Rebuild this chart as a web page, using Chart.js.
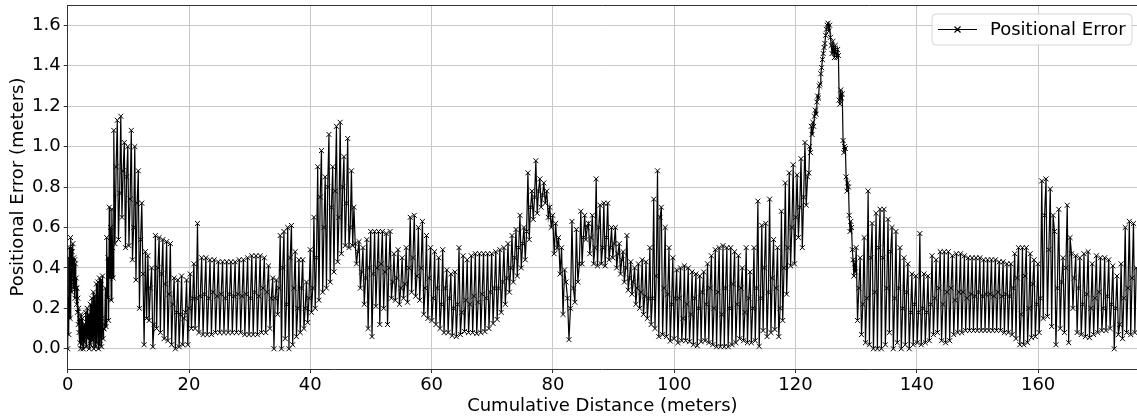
<!DOCTYPE html>
<html>
<head>
<meta charset="utf-8">
<script src="https://cdn.jsdelivr.net/npm/chart.js@4.4.1/dist/chart.umd.min.js"></script>
<style>
  html, body { margin: 0; padding: 0; background: #fff; }
</style>
</head>
<body>
<canvas id="errChart" width="1137" height="419"></canvas>
<script>
// distance breakpoints (m) between the sections
const breaks = [0, 2.2, 6.0, 7.6, 12.6, 19.4, 21.4, 33.8, 40.6, 47.4, 53.8, 62.5, 72.6,
  78.5, 84.6, 92.2, 100.4, 112.5, 122.2, 127.2, 130.0, 140.5, 147.2, 160.6, 166.2, 176.4];

// positional error (m), one list per section
const errA = [0.0, 0.25, 0.45, 0.07, 0.5, 0.3, 0.15, 0.55, 0.35, 0.5, 0.28, 0.48, 0.38, 0.52, 0.3, 0.45, 0.33,
  0.44, 0.25, 0.42, 0.3, 0.35, 0.22, 0.3, 0.18, 0.25, 0.12, 0.2, 0.08, 0.15, 0.03, 0.1, 0.0];
const errB = [0.17, 0.02, 0.1, 0.15, 0.0, 0.08, 0.12, 0.03, 0.12, 0.18, 0.01, 0.06, 0.2, 0.05, 0.1, 0.17, 0.0, 0.13,
  0.22, 0.02, 0.08, 0.25, 0.04, 0.12, 0.28, 0.0, 0.15, 0.26, 0.01, 0.1, 0.32, 0.03, 0.14, 0.33, 0.0, 0.12,
  0.35, 0.02, 0.1, 0.34, 0.01, 0.15, 0.36, 0.05, 0.1];
const errC = [0.1, 0.12, 0.3, 0.11, 0.55, 0.25, 0.45, 0.14, 0.7, 0.35, 0.6, 0.24, 0.69, 0.5, 0.35];
const errD = [1.08, 0.52, 0.9, 1.13, 0.54, 0.77, 1.15, 0.65, 0.88, 1.02, 0.5, 0.85, 1.0, 0.51, 0.74, 1.08, 0.44, 0.6,
  1.0, 0.34, 0.72, 0.88, 0.2, 0.54, 0.72, 0.37];
const errE = [0.02, 0.48, 0.15, 0.46, 0.14, 0.3, 0.4, 0.01, 0.12, 0.56, 0.1, 0.4, 0.55, 0.08, 0.37, 0.54, 0.05, 0.32,
  0.53, 0.04, 0.27, 0.52, 0.02, 0.22, 0.35, 0.0, 0.18, 0.34, 0.01, 0.17, 0.36, 0.02, 0.15];
const errF = [0.18, 0.34, 0.02, 0.2, 0.37, 0.1, 0.25, 0.42, 0.1, 0.25];
const errG = [0.62, 0.08, 0.26, 0.45, 0.07, 0.27, 0.45, 0.07, 0.25, 0.44, 0.07, 0.28, 0.44, 0.08, 0.26, 0.43, 0.08, 0.27,
  0.43, 0.08, 0.25, 0.43, 0.08, 0.27, 0.43, 0.08, 0.26, 0.43, 0.08, 0.27, 0.44, 0.08, 0.26, 0.44, 0.07, 0.27,
  0.45, 0.07, 0.25, 0.46, 0.07, 0.28, 0.46, 0.07, 0.26, 0.46, 0.08, 0.3, 0.45, 0.08, 0.28, 0.41, 0.1, 0.25];
const errH = [0.35, 0.0, 0.25, 0.34, 0.17, 0.3, 0.56, 0.0, 0.4, 0.58, 0.05, 0.22, 0.6, 0.0, 0.45, 0.61, 0.02, 0.3,
  0.48, 0.06, 0.2, 0.44, 0.08, 0.3, 0.44, 0.1, 0.2, 0.33, 0.13, 0.25, 0.49, 0.18, 0.3];
const errI = [0.65, 0.2, 0.45, 0.9, 0.24, 0.75, 0.98, 0.28, 0.6, 0.85, 0.3, 0.8, 1.06, 0.33, 0.7, 0.9, 0.38, 0.78,
  1.1, 0.43, 0.65, 1.12, 0.47, 0.8, 0.95, 0.51, 0.72, 1.04, 0.5, 0.6, 0.88, 0.51, 0.7];
const errJ = [0.52, 0.42, 0.48, 0.53, 0.3, 0.38, 0.5, 0.22, 0.35, 0.54, 0.1, 0.4, 0.58, 0.06, 0.37, 0.58, 0.21, 0.4,
  0.58, 0.12, 0.42, 0.58, 0.2, 0.38, 0.57, 0.12, 0.4, 0.58, 0.25, 0.33];
const errK = [0.47, 0.24, 0.35, 0.49, 0.22, 0.3, 0.45, 0.25, 0.32, 0.5, 0.23, 0.4, 0.65, 0.28, 0.45, 0.66, 0.26, 0.36,
  0.6, 0.24, 0.4, 0.63, 0.17, 0.3, 0.56, 0.15, 0.35, 0.5, 0.14, 0.25, 0.48, 0.12, 0.3, 0.45, 0.1, 0.22, 0.49, 0.08, 0.3];
const errL = [0.39, 0.08, 0.25, 0.37, 0.065, 0.2, 0.38, 0.06, 0.22, 0.5, 0.07, 0.18, 0.46, 0.085, 0.24, 0.44, 0.08, 0.22,
  0.46, 0.08, 0.26, 0.47, 0.075, 0.23, 0.47, 0.08, 0.27, 0.47, 0.085, 0.25, 0.47, 0.1, 0.28, 0.47, 0.125, 0.3,
  0.48, 0.145, 0.3, 0.49, 0.18, 0.33, 0.5, 0.22, 0.35];
const errM = [0.52, 0.28, 0.4, 0.56, 0.33, 0.45, 0.59, 0.36, 0.5, 0.66, 0.4, 0.52, 0.6, 0.44, 0.58, 0.87, 0.54, 0.7,
  0.78, 0.64, 0.75, 0.93, 0.67, 0.78, 0.84, 0.7, 0.76];
const errN = [0.82, 0.72, 0.78, 0.65, 0.7, 0.6, 0.66, 0.47, 0.62, 0.5, 0.55, 0.37, 0.5, 0.17, 0.39, 0.33, 0.25, 0.045,
  0.2, 0.63, 0.3, 0.23, 0.59, 0.33, 0.42];
const errO = [0.68, 0.42, 0.55, 0.66, 0.54, 0.6, 0.62, 0.47, 0.55, 0.66, 0.42, 0.5, 0.84, 0.41, 0.6, 0.71, 0.42, 0.5,
  0.72, 0.41, 0.55, 0.72, 0.44, 0.5, 0.6, 0.45, 0.52, 0.6, 0.4, 0.47, 0.52, 0.37, 0.44, 0.48, 0.33, 0.4];
const errP = [0.56, 0.29, 0.35, 0.43, 0.27, 0.33, 0.4, 0.22, 0.3, 0.42, 0.2, 0.28, 0.44, 0.17, 0.26, 0.43, 0.15, 0.25,
  0.5, 0.12, 0.25, 0.74, 0.1, 0.36, 0.88, 0.06, 0.65, 0.7, 0.07, 0.3, 0.6, 0.06, 0.27, 0.5, 0.038, 0.22, 0.45, 0.05, 0.25];
const errQ = [0.39, 0.03, 0.25, 0.4, 0.04, 0.15, 0.41, 0.04, 0.22, 0.4, 0.035, 0.17, 0.38, 0.02, 0.25, 0.37, 0.015, 0.2,
  0.36, 0.035, 0.28, 0.38, 0.04, 0.22, 0.42, 0.03, 0.3, 0.46, 0.02, 0.2, 0.49, 0.01, 0.28, 0.5, 0.01, 0.17,
  0.51, 0.01, 0.3, 0.5, 0.01, 0.2, 0.5, 0.02, 0.32, 0.48, 0.03, 0.22, 0.46, 0.05, 0.3, 0.4, 0.04, 0.18, 0.5, 0.03, 0.25];
const errR = [0.38, 0.03, 0.2, 0.5, 0.04, 0.3, 0.73, 0.012, 0.25, 0.61, 0.09, 0.4, 0.62, 0.06, 0.28, 0.74, 0.08, 0.35,
  0.54, 0.095, 0.3, 0.5, 0.06, 0.2, 0.68, 0.14, 0.4, 0.82, 0.27, 0.5, 0.87, 0.41, 0.6, 0.91, 0.42, 0.65,
  0.86, 0.55, 0.7, 0.94, 0.5, 0.75, 1.02, 0.71, 0.85];
const errS = [0.87, 1.0, 0.97, 1.1, 1.06, 1.12, 1.1, 1.15, 1.18, 1.16, 1.22, 1.25, 1.24, 1.3, 1.31, 1.36, 1.39, 1.43,
  1.46, 1.49, 1.51, 1.55, 1.58, 1.6, 1.61, 1.57, 1.6, 1.54, 1.5, 1.46, 1.52, 1.49, 1.44, 1.5, 1.46, 1.44, 1.48, 1.45];
const errT = [1.23, 1.21, 1.28, 1.24, 1.26, 1.03, 0.97, 1.0, 0.99, 0.85, 0.78, 0.82, 0.8, 0.66, 0.58, 0.63, 0.6,
  0.49, 0.44, 0.36, 0.42, 0.38];
const errU = [0.5, 0.14, 0.3, 0.45, 0.07, 0.22, 0.55, 0.03, 0.25, 0.78, 0.02, 0.45, 0.62, 0.0, 0.28, 0.67, 0.0, 0.5,
  0.69, 0.0, 0.45, 0.69, 0.02, 0.3, 0.64, 0.08, 0.48, 0.6, 0.0, 0.25, 0.58, 0.03, 0.3, 0.5, 0.0, 0.2,
  0.45, 0.02, 0.28, 0.42, 0.0, 0.18, 0.37, 0.02, 0.22, 0.36, 0.03, 0.18];
const errV = [0.57, 0.02, 0.2, 0.37, 0.03, 0.18, 0.36, 0.04, 0.22, 0.46, 0.07, 0.25, 0.44, 0.08, 0.3, 0.48, 0.04, 0.22,
  0.48, 0.03, 0.28, 0.48, 0.04, 0.3, 0.46, 0.07, 0.24, 0.47, 0.08, 0.28];
const errW = [0.47, 0.08, 0.28, 0.46, 0.09, 0.25, 0.45, 0.09, 0.27, 0.45, 0.09, 0.26, 0.45, 0.09, 0.28, 0.45, 0.09, 0.26,
  0.44, 0.09, 0.27, 0.44, 0.09, 0.27, 0.44, 0.09, 0.26, 0.44, 0.09, 0.28, 0.43, 0.09, 0.26, 0.43, 0.08, 0.27,
  0.42, 0.08, 0.26, 0.42, 0.07, 0.3, 0.47, 0.05, 0.35, 0.5, 0.02, 0.17, 0.5, 0.02, 0.36, 0.5, 0.03, 0.2,
  0.47, 0.055, 0.32, 0.44, 0.06, 0.22, 0.42, 0.08, 0.25];
const errX = [0.83, 0.15, 0.66, 0.84, 0.16, 0.49, 0.79, 0.11, 0.66, 0.58, 0.02, 0.3, 0.69, 0.1, 0.33, 0.45, 0.08, 0.4,
  0.71, 0.03, 0.55, 0.47, 0.2, 0.35];
const errY = [0.46, 0.08, 0.3, 0.45, 0.07, 0.22, 0.47, 0.06, 0.27, 0.48, 0.055, 0.2, 0.42, 0.07, 0.25, 0.46, 0.08, 0.28,
  0.45, 0.09, 0.2, 0.45, 0.09, 0.26, 0.44, 0.1, 0.22, 0.41, 0.0, 0.2, 0.36, 0.07, 0.12, 0.42, 0.05, 0.25,
  0.6, 0.08, 0.3, 0.63, 0.07, 0.35, 0.62, 0.08, 0.4];

const xTicks = [0, 20, 40, 60, 80, 100, 120, 140, 160];
const yTicks = [0.0, 0.2, 0.4, 0.6, 0.8, 1.0, 1.2, 1.4, 1.6];

const sections = [errA, errB, errC, errD, errE, errF, errG, errH, errI, errJ, errK, errL, errM,
  errN, errO, errP, errQ, errR, errS, errT, errU, errV, errW, errX, errY];

// spread each section's samples along its distance range
const points = [];
sections.forEach((vals, i) => {
  const start = breaks[i], end = breaks[i + 1];
  vals.forEach((v, j) => {
    points.push({ x: start + (end - start) * j / vals.length, y: v });
  });
});

const FONT = 'DejaVu Sans';
const FSIZE = 18;

const frameAndLegend = {
  id: 'frameAndLegend',
  afterDraw(chart) {
    const { ctx, chartArea: a } = chart;
    ctx.save();
    ctx.strokeStyle = '#333';
    ctx.lineWidth = 1;
    ctx.beginPath();
    ctx.moveTo(a.left, a.top + 0.5);
    ctx.lineTo(a.right, a.top + 0.5);
    ctx.stroke();

    // legend box
    const bx = 932, by = 14, bw = 200, bh = 31, r = 4;
    ctx.beginPath();
    ctx.moveTo(bx + r, by);
    ctx.arcTo(bx + bw, by, bx + bw, by + bh, r);
    ctx.arcTo(bx + bw, by + bh, bx, by + bh, r);
    ctx.arcTo(bx, by + bh, bx, by, r);
    ctx.arcTo(bx, by, bx + bw, by, r);
    ctx.closePath();
    ctx.fillStyle = 'rgba(255,255,255,0.8)';
    ctx.fill();
    ctx.strokeStyle = '#d6d6d6';
    ctx.stroke();

    const ly = by + bh / 2;
    ctx.strokeStyle = '#000';
    ctx.lineWidth = 1.2;
    ctx.beginPath();
    ctx.moveTo(938, ly);
    ctx.lineTo(977, ly);
    ctx.moveTo(954.5, ly - 3);
    ctx.lineTo(960.5, ly + 3);
    ctx.moveTo(960.5, ly - 3);
    ctx.lineTo(954.5, ly + 3);
    ctx.stroke();
    ctx.fillStyle = '#000';
    ctx.font = FSIZE + 'px "' + FONT + '"';
    ctx.textBaseline = 'middle';
    ctx.textAlign = 'left';
    ctx.fillText('Positional Error', 990, ly + 1);
    ctx.restore();
  }
};

new Chart(document.getElementById('errChart'), {
  type: 'line',
  data: {
    datasets: [{
      label: 'Positional Error',
      data: points,
      borderColor: '#000',
      borderWidth: 1.2,
      pointStyle: 'crossRot',
      pointRadius: 3.5,
      pointBorderWidth: 1,
      pointBorderColor: '#000',
      pointBackgroundColor: '#000',
      tension: 0
    }]
  },
  options: {
    responsive: false,
    animation: false,
    layout: { autoPadding: false, padding: { top: 5, right: 0, left: 0, bottom: 0 } },
    plugins: { legend: { display: false }, tooltip: { enabled: false } },
    scales: {
      x: {
        type: 'linear',
        min: 0,
        max: 176.3,
        afterFit(s) { s.height = 50; s.paddingLeft = 0; s.paddingRight = 0; },
        afterBuildTicks(s) { s.ticks = xTicks.map(v => ({ value: v })); },
        grid: { color: '#c8c8c8', lineWidth: 1, tickLength: 4, tickColor: '#333' },
        border: { color: '#333', width: 1 },
        ticks: {
          color: '#000',
          padding: 2,
          maxRotation: 0,
          font: { family: FONT, size: FSIZE },
          callback: v => String(v)
        },
        title: {
          display: true,
          text: 'Cumulative Distance (meters)',
          color: '#000',
          font: { family: FONT, size: FSIZE },
          padding: { top: 0, bottom: 2 }
        }
      },
      y: {
        min: -0.1,
        max: 1.7,
        afterFit(s) { s.width = 67.7; s.paddingTop = 0; s.paddingBottom = 0; },
        afterBuildTicks(s) { s.ticks = yTicks.map(v => ({ value: v })); },
        grid: { color: '#c8c8c8', lineWidth: 1, tickLength: 4, tickColor: '#333' },
        border: { color: '#333', width: 1 },
        ticks: {
          color: '#000',
          padding: 3,
          font: { family: FONT, size: FSIZE },
          callback: v => v.toFixed(1)
        },
        title: {
          display: true,
          text: 'Positional Error (meters)',
          color: '#000',
          font: { family: FONT, size: FSIZE },
          padding: { top: 8, bottom: 0 }
        }
      }
    }
  },
  plugins: [frameAndLegend]
});
</script>
</body>
</html>
